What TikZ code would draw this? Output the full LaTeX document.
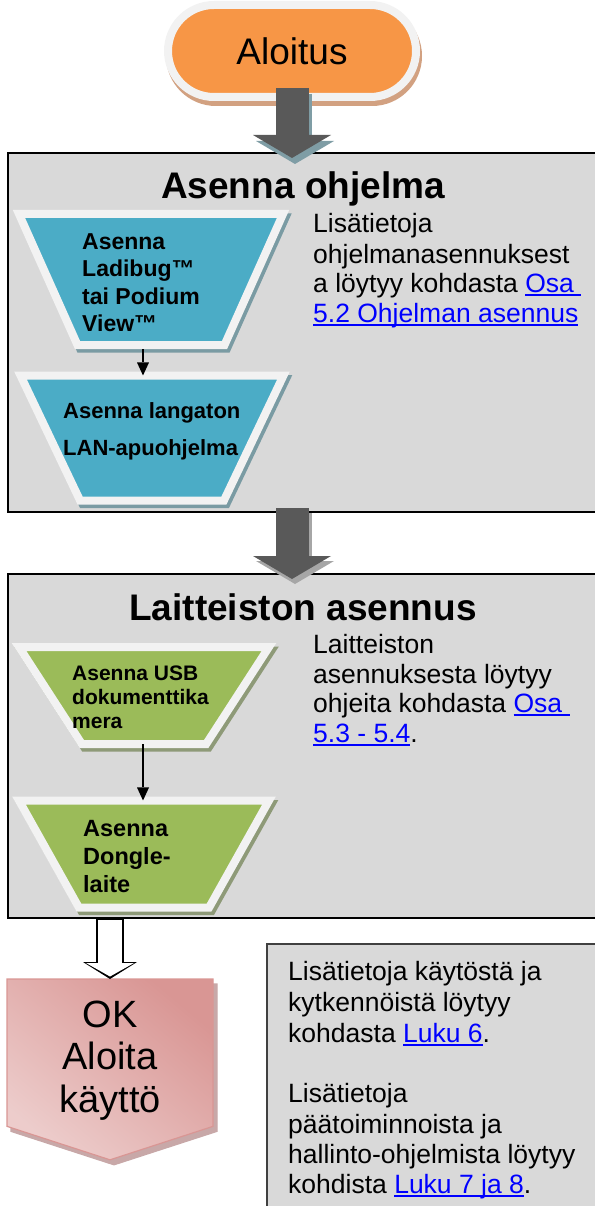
\documentclass[tikz,border=0pt]{standalone}
\usepackage{fontspec}
\setmainfont{Liberation Sans}
\usetikzlibrary{shapes.geometric,shapes.misc,shapes.symbols,arrows.meta}

\definecolor{startorange}{HTML}{F79646}
\definecolor{startshadow}{HTML}{D2A181}
\definecolor{rimwhite}{HTML}{F2F2F2}
\definecolor{panelgray}{HTML}{D9D9D9}
\definecolor{stepblue}{HTML}{4BACC6}
\definecolor{blueshadow}{HTML}{7A9BA3}
\definecolor{stepgreen}{HTML}{9BBB59}
\definecolor{greenshadow}{HTML}{8E9A78}
\definecolor{arrowgray}{HTML}{595959}
\definecolor{arrowshade}{HTML}{7F9DA5}
\definecolor{linkblue}{HTML}{0000FF}
\definecolor{okpale}{HTML}{F2DCDB}
\definecolor{okmid}{HTML}{E6B9B8}
\definecolor{okdark}{HTML}{D99694}
\definecolor{okshadow}{HTML}{C8A8A8}

% blue underlined link text
\newcommand{\linktext}[1]{{\color{linkblue}\setbox0=\hbox{#1}\rlap{\rule[-3.5pt]{\wd0}{1.6pt}}\box0}}

\tikzset{
  panel/.style={draw=black, line width=2pt, fill=panelgray, inner sep=0pt, outer sep=0pt},
  notebox/.style={draw=black!75, line width=1.5pt, fill=panelgray, inner sep=0pt, outer sep=0pt},
  titletext/.style={anchor=base, inner sep=0pt, font=\bfseries\fontsize{37}{44}\selectfont},
  startshape/.style={rounded rectangle, fill=startorange, draw=rimwhite, line width=8pt,
    inner sep=0pt, outer sep=0pt, font=\fontsize{37}{44}\selectfont,
    preaction={fill=startshadow, draw=startshadow, transform canvas={xshift=2pt,yshift=-5pt}}},
  stepshape/.style={trapezium, trapezium stretches=true, shape border rotate=180,
    draw=rimwhite, line width=8pt, inner sep=2pt, outer sep=0pt},
  stepshadow/.style={preaction={fill=#1, draw=#1, transform canvas={xshift=2.5pt,yshift=-3.5pt}}},
  steptext/.style={anchor=base west, inner sep=0pt},
  infotext/.style={anchor=base west, inner sep=0pt, font=\fontsize{26.5}{30}\selectfont},
  oktext/.style={anchor=base, inner sep=0pt, font=\fontsize{38}{44}\selectfont},
  bigarrow/.style={line width=33pt, -{Triangle[width=78pt,length=23pt,line width=0pt]}},
  steparrow/.style={line width=1.5pt, -{Triangle[width=12pt,length=13pt,line width=0pt]}},
  okshape/.style={signal, signal to=south, signal from=nowhere, signal pointer angle=144,
    draw=okdark, line width=1.2pt, inner sep=2pt, outer sep=0pt,
    top color=okdark, middle color=okpale, bottom color=okpale!55!okmid, shading angle=-40,
    preaction={fill=okshadow, draw=okshadow, transform canvas={xshift=4pt,yshift=-5pt}}}
}

\begin{document}
\begin{tikzpicture}[x=1pt, y=-1pt]
\useasboundingbox (0,0) rectangle (594,1206);

% Gray panels
\node[panel, minimum width=591pt, minimum height=359pt] (box1) at (303.5,332.5) {};
\node[panel, minimum width=591pt, minimum height=344pt] (box2) at (303.5,746) {};
\node[notebox, minimum width=340pt, minimum height=280pt] (note) at (437,1084) {};

\node[titletext] (title1) at (303,199) {Asenna ohjelma};
\node[titletext] (title2) at (303,620) {Laitteiston asennus};

% Start
\node[startshape, minimum width=248pt, minimum height=92pt] (aloitus) at (292,51) {Aloitus};

% Big arrows between the panels
\coordinate (arr1end) at (aloitus.south |- box1.north);
\coordinate (arr2beg) at (aloitus.south |- box1.south);
\coordinate (arr2end) at (aloitus.south |- box2.north);
\draw[bigarrow, color=arrowshade, transform canvas={xshift=3pt,yshift=-6pt}] ([yshift=9pt]aloitus.south) -- ([yshift=-5pt]arr1end);
\draw[bigarrow, color=arrowgray] ([yshift=9pt]aloitus.south) -- ([yshift=-5pt]arr1end);
\draw[bigarrow, color=black!35, transform canvas={xshift=3pt,yshift=-5pt}] ([yshift=4pt]arr2beg) -- ([yshift=-5pt]arr2end);
\draw[bigarrow, color=arrowgray] ([yshift=4pt]arr2beg) -- ([yshift=-5pt]arr2end);

% Blue steps
\node[stepshape, stepshadow=blueshadow, fill=stepblue, trapezium angle=68.3,
  minimum width=264pt, minimum height=131pt] (blue1) at (151,279.5) {};
\node[stepshape, stepshadow=blueshadow, fill=stepblue, trapezium angle=67.5,
  minimum width=263pt, minimum height=125pt] (blue2) at (152,438) {};
\draw[steparrow, shorten <=4pt] ([xshift=-8pt]blue1.south) -- ([xshift=-9pt]blue2.north);

\foreach \txt [count=\k] in {Asenna,Ladibug™,tai Podium,View™}
  \node[steptext, font=\bfseries\fontsize{23}{27}\selectfont] (blue1line\k) at (82,{249+27.5*(\k-1)}) {\txt};
\foreach \txt [count=\k] in {Asenna langaton,LAN-apuohjelma}
  \node[steptext, font=\bfseries\fontsize{22}{26}\selectfont] (blue2line\k) at (63,{418+37*(\k-1)}) {\txt};

% Green steps
\node[stepshape, stepshadow=greenshadow, fill=stepgreen, trapezium angle=63.2,
  minimum width=250pt, minimum height=97pt] (green1) at (144,695.5) {};
\node[stepshape, stepshadow=greenshadow, fill=stepgreen, trapezium angle=65.3,
  minimum width=250pt, minimum height=107pt] (green2) at (144,854) {};
\draw[steparrow] ([xshift=-1pt]green1.south) -- ([xshift=-1pt]green2.north);

\foreach \txt [count=\k] in {Asenna USB,dokumenttika,mera}
  \node[steptext, font=\bfseries\fontsize{21}{24}\selectfont] (green1line\k) at (72,{680+24*(\k-1)}) {\txt};
\foreach \txt [count=\k] in {Asenna,Dongle-,laite}
  \node[steptext, font=\bfseries\fontsize{23.5}{28}\selectfont] (green2line\k) at (83,{836+28*(\k-1)}) {\txt};

% Side notes
\foreach \txt/\yy [count=\k] in {Lisätietoja/233,ohjelmanasennuksest/263,a löytyy kohdasta \linktext{Osa\ }/292,\linktext{5.2 Ohjelman asennus}/322}
  \node[infotext] (info1line\k) at (313,\yy) {\txt};
\foreach \txt/\yy [count=\k] in {Laitteiston/653,asennuksesta löytyy/683,ohjeita kohdasta \linktext{Osa\ }/712,\linktext{5.3 - 5.4}./742}
  \node[infotext] (info2line\k) at (313,\yy) {\txt};
\foreach \txt/\yy [count=\k] in {Lisätietoja käytöstä ja/980,kytkennöistä löytyy/1011,kohdasta \linktext{Luku 6}./1042,Lisätietoja/1102,päätoiminnoista ja/1133,hallinto-ohjelmista löytyy/1163,kohdista \linktext{Luku 7 ja 8}./1193}
  \node[infotext] (noteline\k) at (288,\yy) {\txt};

% End
\node[okshape, anchor=north, minimum width=206pt, minimum height=148pt] (ok) at (110,979) {};
\foreach \txt/\yy [count=\k] in {OK/1027,Aloita/1069,käyttö/1112}
  \node[oktext] (okline\k) at (110,\yy) {\txt};

% Open arrow into the end shape
\coordinate (okbeg) at (ok.north |- box2.south);
\draw[line width=28pt, -{Triangle[width=54pt,length=17pt,line width=0pt]}] (okbeg) -- (ok.north);
\draw[white, line width=24pt, -{Triangle[width=48pt,length=13.5pt,line width=0pt]}] ([yshift=-2pt]okbeg) -- ([yshift=2.5pt]ok.north);

\end{tikzpicture}
\end{document}
